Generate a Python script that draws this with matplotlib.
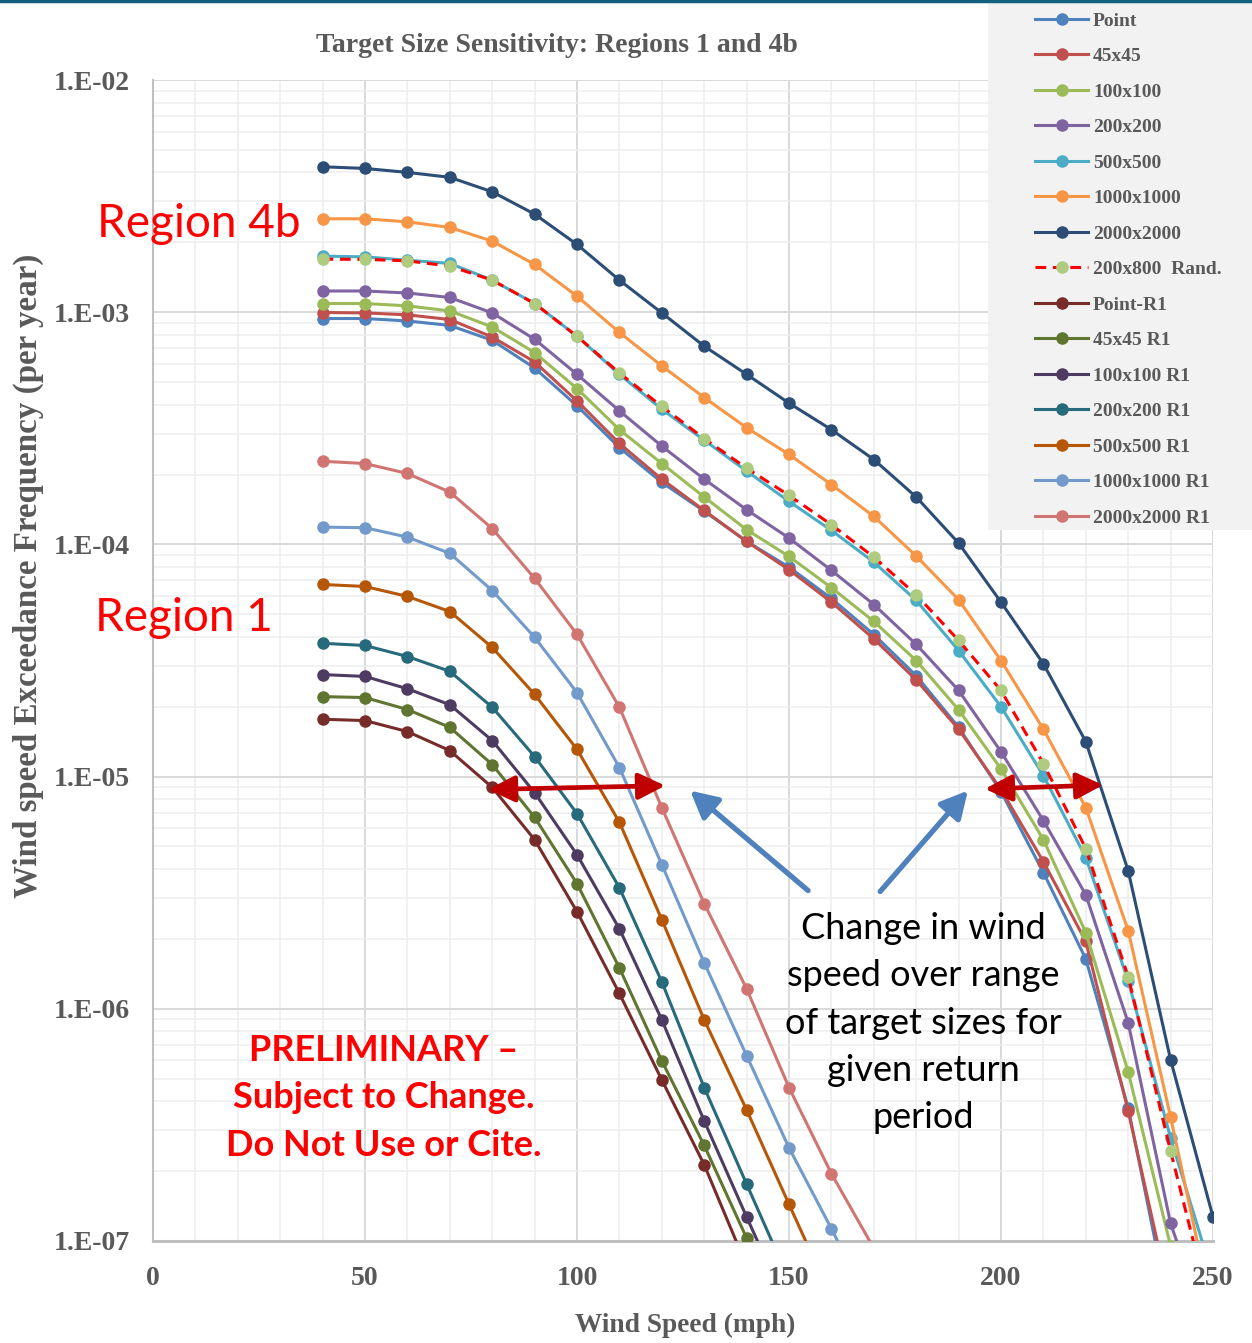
import numpy as np
import matplotlib
matplotlib.use("Agg")
import matplotlib.pyplot as plt
from matplotlib.ticker import FixedLocator, FuncFormatter, NullFormatter
from matplotlib.lines import Line2D
from matplotlib.patches import Rectangle

nan = np.nan

# ---------------- data ----------------
wind = [40, 50, 60, 70, 80, 90, 100, 110, 120, 130, 140, 150, 160, 170, 180, 190,
        200, 210, 220, 230, 240, 250]

point = [9.39e-4, 9.39e-4, 9.17e-4, 8.77e-4, 7.57e-4, 5.75e-4, 3.95e-4, 2.61e-4, 1.85e-4,
         1.39e-4, 1.03e-4, 7.98e-5, 5.85e-5, 4.09e-5, 2.72e-5, 1.63e-5, 8.62e-6, 3.86e-6,
         1.64e-6, 3.74e-7, 4.7e-8, nan]
s45 = [9.97e-4, 9.93e-4, 9.74e-4, 9.30e-4, 7.82e-4, 6.11e-4, 4.15e-4, 2.72e-4, 1.91e-4,
       1.40e-4, 1.03e-4, 7.78e-5, 5.64e-5, 3.92e-5, 2.61e-5, 1.60e-5, 8.79e-6, 4.30e-6,
       1.95e-6, 3.63e-7, 5.5e-8, nan]
s100 = [1.09e-3, 1.09e-3, 1.065e-3, 1.013e-3, 8.64e-4, 6.70e-4, 4.69e-4, 3.12e-4, 2.23e-4,
        1.60e-4, 1.157e-4, 8.88e-5, 6.51e-5, 4.66e-5, 3.16e-5, 1.94e-5, 1.08e-5, 5.35e-6,
        2.13e-6, 5.35e-7, 9.5e-8, nan]
s200 = [1.234e-3, 1.234e-3, 1.21e-3, 1.157e-3, 9.93e-4, 7.65e-4, 5.40e-4, 3.76e-4, 2.65e-4,
        1.91e-4, 1.41e-4, 1.065e-4, 7.73e-5, 5.51e-5, 3.71e-5, 2.35e-5, 1.28e-5, 6.46e-6,
        3.10e-6, 8.70e-7, 1.19e-7, 3.5e-8]
s500 = [1.743e-3, 1.731e-3, 1.675e-3, 1.622e-3, 1.374e-3, 1.09e-3, 7.88e-4, 5.40e-4, 3.82e-4,
        2.81e-4, 2.07e-4, 1.532e-4, 1.149e-4, 8.39e-5, 5.74e-5, 3.49e-5, 2.0e-5, 1.01e-5,
        4.48e-6, 1.32e-6, 2.78e-7, 7.0e-8]
s1000 = [2.525e-3, 2.525e-3, 2.45e-3, 2.318e-3, 2.023e-3, 1.606e-3, 1.172e-3, 8.18e-4, 5.87e-4,
         4.29e-4, 3.18e-4, 2.44e-4, 1.81e-4, 1.32e-4, 8.91e-5, 5.78e-5, 3.16e-5, 1.60e-5,
         7.35e-6, 2.17e-6, 3.42e-7, 4.8e-8]
s2000 = [4.23e-3, 4.16e-3, 4.0e-3, 3.81e-3, 3.30e-3, 2.645e-3, 1.958e-3, 1.374e-3, 9.93e-4,
         7.14e-4, 5.40e-4, 4.06e-4, 3.12e-4, 2.32e-4, 1.60e-4, 1.013e-4, 5.64e-5, 3.06e-5,
         1.415e-5, 3.93e-6, 6.03e-7, 1.27e-7]
rand200x800 = [1.692e-3, 1.689e-3, 1.664e-3, 1.579e-3, 1.374e-3, 1.09e-3, 7.88e-4, 5.47e-4,
               3.93e-4, 2.855e-4, 2.13e-4, 1.626e-4, 1.216e-4, 8.82e-5, 6.07e-5, 3.86e-5,
               2.35e-5, 1.138e-5, 4.9e-6, 1.374e-6, 2.44e-7, 4.6e-8]
point_r1 = [1.766e-5, 1.743e-5, 1.563e-5, 1.294e-5, 8.99e-6, 5.35e-6, 2.62e-6, 1.164e-6,
            4.94e-7, 2.13e-7, 7.8e-8] + [nan] * 11
s45_r1 = [2.21e-5, 2.19e-5, 1.945e-5, 1.63e-5, 1.127e-5, 6.68e-6, 3.46e-6, 1.50e-6, 5.97e-7,
          2.58e-7, 1.03e-7, 4.5e-8] + [nan] * 10
s100_r1 = [2.75e-5, 2.70e-5, 2.39e-5, 2.04e-5, 1.43e-5, 8.53e-6, 4.61e-6, 2.21e-6, 8.97e-7,
           3.29e-7, 1.27e-7, 5.0e-8] + [nan] * 10
s200_r1 = [3.75e-5, 3.67e-5, 3.29e-5, 2.84e-5, 1.99e-5, 1.22e-5, 6.93e-6, 3.32e-6, 1.307e-6,
           4.58e-7, 1.76e-7, 6.8e-8] + [nan] * 10
s500_r1 = [6.72e-5, 6.59e-5, 5.97e-5, 5.14e-5, 3.60e-5, 2.26e-5, 1.31e-5, 6.36e-6, 2.42e-6,
           8.97e-7, 3.67e-7, 1.44e-7, 5.7e-8] + [nan] * 9
s1000_r1 = [1.187e-4, 1.18e-4, 1.075e-4, 9.15e-5, 6.33e-5, 3.98e-5, 2.30e-5, 1.094e-5, 4.18e-6,
            1.58e-6, 6.29e-7, 2.52e-7, 1.13e-7, 4.9e-8] + [nan] * 8
s2000_r1 = [2.28e-4, 2.23e-4, 2.02e-4, 1.68e-4, 1.17e-4, 7.14e-5, 4.10e-5, 1.99e-5, 7.35e-6,
            2.84e-6, 1.22e-6, 4.58e-7, 1.95e-7, 9.3e-8] + [nan] * 8

labels = ["Point", "45x45", "100x100", "200x200", "500x500", "1000x1000", "2000x2000",
          "200x800  Rand.", "Point-R1", "45x45 R1", "100x100 R1", "200x200 R1",
          "500x500 R1", "1000x1000 R1", "2000x2000 R1"]
series = [point, s45, s100, s200, s500, s1000, s2000, rand200x800, point_r1, s45_r1,
          s100_r1, s200_r1, s500_r1, s1000_r1, s2000_r1]
colors = ["#4F81BD", "#C0504D", "#9BBB59", "#8064A2", "#4BACC6", "#F79646", "#2C4D75",
          "#FF0000", "#772C2A", "#5F7530", "#4D3B62", "#276A7C", "#B65708", "#729ACA",
          "#D07572"]
rand_marker_color = "#AECB80"

x_ticks = [0, 50, 100, 150, 200, 250]
y_ticks = [1e-7, 1e-6, 1e-5, 1e-4, 1e-3, 1e-2]

# ---------------- figure ----------------
W, H = 1252, 1343
fig = plt.figure(figsize=(W / 100, H / 100), dpi=100)
fig.patch.set_facecolor("white")
ax = fig.add_axes([153 / W, 1 - 1241 / H, (1213 - 153) / W, (1241 - 80) / H])

serif = "Liberation Serif"
gray = "#595959"

handles = []
for lab, ys, c in zip(labels, series, colors):
    if lab.startswith("200x800"):
        ln, = ax.plot(wind, ys, color=c, lw=2.2, linestyle=(0, (3.5, 2.2)),
                      marker="o", ms=8, mfc=rand_marker_color, mec=rand_marker_color,
                      label=lab, zorder=3)
    else:
        ln, = ax.plot(wind, ys, color=c, lw=2.2, marker="o", ms=8, mfc=c, mec=c,
                      label=lab, zorder=3)
    handles.append(ln)

ax.set_yscale("log")
ax.set_xlim(0, 250)
ax.set_ylim(1e-7, 1e-2)
ax.xaxis.set_major_locator(FixedLocator(x_ticks))
ax.xaxis.set_minor_locator(FixedLocator(list(range(0, 251, 10))))
ax.yaxis.set_major_locator(FixedLocator(y_ticks))
minor_y = [m * 10.0 ** e for e in range(-7, -2) for m in range(2, 10)]
ax.yaxis.set_minor_locator(FixedLocator(minor_y))
ax.yaxis.set_minor_formatter(NullFormatter())
ax.yaxis.set_major_formatter(FuncFormatter(lambda v, p: "1.E-%02d" % round(-np.log10(v))))

ax.grid(which="major", color="#D9D9D9", lw=1.4)
ax.grid(which="minor", color="#EEEEEE", lw=1.1)
ax.set_axisbelow(True)
for s in ["top", "right"]:
    ax.spines[s].set_visible(False)
ax.spines["left"].set_color("#BFBFBF")
ax.spines["left"].set_linewidth(1.5)
ax.spines["bottom"].set_color("#BFBFBF")
ax.spines["bottom"].set_linewidth(2.2)
ax.tick_params(which="both", length=0)
ax.tick_params(axis="y", pad=17)
ax.tick_params(axis="x", pad=18)
for t in ax.get_xticklabels() + ax.get_yticklabels():
    t.set_fontfamily(serif)
    t.set_fontweight("bold")
    t.set_fontsize(20)
    t.set_color(gray)

# titles / axis labels
fig.text(557 / W, 1 - 45 / H, "Target Size Sensitivity: Regions 1 and 4b", ha="center",
         va="center", fontsize=20, fontweight="bold", family=serif, color=gray)
fig.text(685 / W, 1 - 1325 / H, "Wind Speed (mph)", ha="center", va="center",
         fontsize=19.7, fontweight="bold", family=serif, color=gray)
fig.text(28 / W, 1 - 576 / H, "Wind speed Exceedance Frequency (per year)", ha="center",
         va="center", rotation=90, fontsize=23.8, fontweight="bold", family=serif, color=gray)

# top border line
fig.add_artist(Line2D([0, 1], [1 - 1.2 / H, 1 - 1.2 / H], transform=fig.transFigure,
                      color="#10607E", lw=2.5, zorder=10))

# legend background and legend
fig.add_artist(Rectangle((988 / W, 1 - 530 / H), 264 / W, 530 / H, transform=fig.transFigure,
                         facecolor="#F2F2F2", edgecolor="none", zorder=4))
leg = fig.legend(handles=handles, labels=labels, loc="upper left",
                 bbox_to_anchor=(1035 / W, 1 - 12 / H), frameon=False,
                 prop={"family": serif, "weight": "bold", "size": 14},
                 handlelength=2.73, handletextpad=0.26, labelspacing=0.92,
                 borderpad=0, borderaxespad=0, numpoints=1)
leg.set_zorder(5)
for t in leg.get_texts():
    t.set_color(gray)

# annotations
sans = ["Lato", "DejaVu Sans"]
fig.text(97 / W, 1 - 224 / H, "Region 4b", ha="left", va="center", fontsize=33,
         color="#FF0000", family=sans)
fig.text(95 / W, 1 - 618 / H, "Region 1", ha="left", va="center", fontsize=33,
         color="#FF0000", family=sans)
fig.text(384 / W, 1 - 1098 / H, "PRELIMINARY \u2013\nSubject to Change.\nDo Not Use or Cite.",
         ha="center", va="center", multialignment="center", fontsize=26, fontweight="bold",
         color="#FF0000", family=sans, linespacing=1.52)
fig.text(923 / W, 1 - 1023 / H,
         "Change in wind\nspeed over range\nof target sizes for\ngiven return\nperiod",
         ha="center", va="center", multialignment="center", fontsize=26, color="black",
         family=sans, linespacing=1.52)

# double-headed red arrows
red_arrow = dict(arrowstyle="<|-|>,head_length=0.65,head_width=0.32", color="#C00000",
                 lw=3.4, shrinkA=0, shrinkB=0, mutation_scale=25)
ax.annotate("", xy=(120.8, 9.14e-6), xytext=(79.0, 8.8e-6), arrowprops=red_arrow, zorder=6)
ax.annotate("", xy=(224.1, 9.2e-6), xytext=(196.2, 8.85e-6), arrowprops=red_arrow, zorder=6)

# blue pointer arrows
blue_arrow = dict(arrowstyle="-|>,head_length=0.65,head_width=0.34", color="#4F81BD",
                  lw=3.8, shrinkA=0, shrinkB=0, mutation_scale=25)
ax.annotate("", xy=(126.7, 8.7e-6), xytext=(154.5, 3.23e-6), arrowprops=blue_arrow, zorder=6)
ax.annotate("", xy=(192.2, 8.7e-6), xytext=(171.5, 3.2e-6), arrowprops=blue_arrow, zorder=6)

fig.savefig("out.png", dpi=100)
